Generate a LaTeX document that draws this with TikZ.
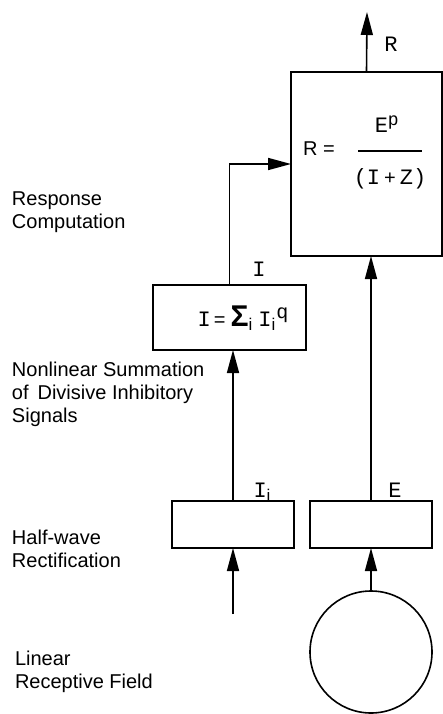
\documentclass[tikz,border=0pt]{standalone}
\usepackage{fontspec}
\setmainfont{Liberation Sans}
\newfontfamily\cour{Liberation Mono}
\usetikzlibrary{arrows.meta}
\begin{document}
\begin{tikzpicture}[x=1pt,y=-1pt,
  every node/.style={inner sep=0pt, outer sep=0pt},
  blk/.style={draw, line width=1.6pt, rectangle},
  lbl/.style={anchor=base west, align=left, font=\fontsize{20}{22.7}\selectfont},
  mono/.style={font=\fontsize{22}{22}\selectfont\cour},
  con/.style={line width=1.6pt, -{Triangle[length=23pt,width=12pt]}},
  ln/.style={line width=1.6pt}]
\useasboundingbox (0,0) rectangle (443,714);
% blocks
\node[blk, minimum width=151pt, minimum height=184pt] (big) at (366.5,164) {};
\node[blk, minimum width=153pt, minimum height=65pt] (sum) at (229.5,317.5) {};
\node[blk, minimum width=122pt, minimum height=47pt] (ibox) at (233,524.5) {};
\node[blk, minimum width=122pt, minimum height=47pt] (ebox) at (371,524.5) {};
\node[draw, circle, line width=1.6pt, minimum size=122pt] (circ) at (371,652) {};
% formula in big box
\node[anchor=base, font=\fontsize{20}{20}\selectfont] (req) at (319,156) {R =};
\node[mono, anchor=base] (num) at (387,133) {E\textsuperscript{\fontsize{18}{18}\selectfont p}};
\node[anchor=base, font=\fontsize{20}{20}\selectfont] (den) at (390,184) {{\fontsize{22}{22}\selectfont\cour (I}\kern4pt+\kern4pt{\fontsize{22}{22}\selectfont\cour Z)}};
\draw[line width=1.6pt] (358,151) -- (422,151);
% summation formula
\node[anchor=base, font=\fontsize{20}{20}\selectfont] (sumtxt) at (243,326)
  {{\fontsize{22}{22}\selectfont\cour I}\kern3pt=\kern5pt{\fontsize{30}{30}\selectfont\bfseries Σ}\raisebox{-4pt}{\fontsize{17}{17}\selectfont i}\kern6pt{\fontsize{22}{22}\selectfont\cour I}\raisebox{-4pt}{\fontsize{17}{17}\selectfont i}\kern1pt\raisebox{8pt}{\fontsize{20}{20}\selectfont\cour q}};
% connector labels
\node[mono, anchor=base] (rl) at (391,52) {R};
\node[mono, anchor=base] (il) at (259,276) {I};
\node[mono, anchor=base] (iil) at (262,497) {I\raisebox{-4pt}{\fontsize{17}{17}\selectfont\rmfamily i}};
\node[mono, anchor=base] (el) at (395,497) {E};
% free ends
\coordinate (rout) at (367,12);
\coordinate (iin) at (233,614);
% connectors
\draw[con] (big.north) -- (rout);
\draw[con] (sum.north) |- (big.west);
\draw[con] (ebox.north) -- (ebox.north |- big.south);
\draw[con] (ibox.north) -- (ibox.north |- sum.south);
\draw[con] (iin) -- (ibox.south);
\draw[con] (circ.north) -- (ebox.south);
% left labels (base = last line)
\node[lbl] (t1) at (12,228) {Response\\Computation};
\node[lbl] (t2) at (12,422) {Nonlinear Summation\\of\, Divisive Inhibitory\\Signals};
\node[lbl] (t3) at (12,567) {Half-wave\\Rectification};
\node[lbl] (t4) at (15,688) {Linear\\Receptive Field};
\end{tikzpicture}
\end{document}
